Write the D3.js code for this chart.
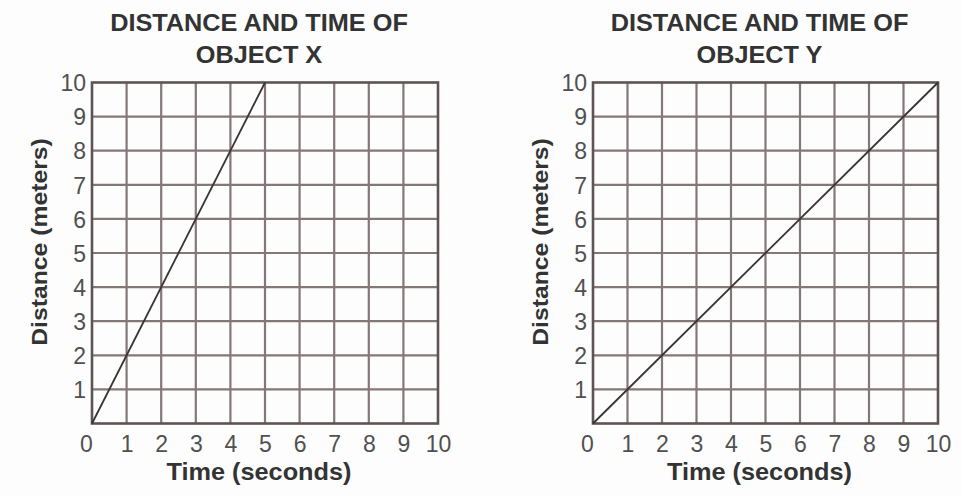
<!DOCTYPE html>
<html>
<head>
<meta charset="utf-8">
<script src="https://cdn.jsdelivr.net/npm/d3@7/dist/d3.min.js"></script>
<style>
  html, body { margin: 0; padding: 0; background: #fdfdfd; }
  svg { display: block; }
  text { font-family: "Liberation Sans", Arial, sans-serif; }
</style>
</head>
<body>
<svg id="chart" width="961" height="496"></svg>
<script>
// ---- data ----
const titlesLine1 = ["DISTANCE AND TIME OF", "DISTANCE AND TIME OF"];
const titlesLine2 = ["OBJECT X", "OBJECT Y"];
const xTickValues = [0, 1, 2, 3, 4, 5, 6, 7, 8, 9, 10];
const yTickValues = [1, 2, 3, 4, 5, 6, 7, 8, 9, 10];
const xDomain = [0, 10];
const yDomain = [0, 10];
const objectXTime = [0, 5];
const objectXDistance = [0, 10];
const objectYTime = [0, 10];
const objectYDistance = [0, 10];
const xAxisTitle = "Time (seconds)";
const yAxisTitle = "Distance (meters)";

const series = [
  { time: objectXTime, dist: objectXDistance },
  { time: objectYTime, dist: objectYDistance }
];

// ---- layout ----
const svg = d3.select("#chart");
const panels = [
  { left: 92, right: 438 },
  { left: 593, right: 938 }
];
const plotTop = 82.5, plotBottom = 423.5;
const SX = 1.1; // horizontal text stretch for bold labels

panels.forEach((p, i) => {
  const x = d3.scaleLinear().domain(xDomain).range([p.left, p.right]);
  const y = d3.scaleLinear().domain(yDomain).range([plotBottom, plotTop]);
  const g = svg.append("g");
  const cx = (p.left + p.right) / 2 - 6;

  // grid
  g.append("g")
    .selectAll("line")
    .data(xTickValues.filter(d => d > 0 && d < 10))
    .join("line")
    .attr("x1", d => x(d)).attr("x2", d => x(d))
    .attr("y1", plotTop).attr("y2", plotBottom)
    .attr("stroke", "#847777").attr("stroke-width", 2.2);
  g.append("g")
    .selectAll("line")
    .data(yTickValues.filter(d => d > 0 && d < 10))
    .join("line")
    .attr("x1", p.left).attr("x2", p.right)
    .attr("y1", d => y(d)).attr("y2", d => y(d))
    .attr("stroke", "#847777").attr("stroke-width", 2.2);

  // border
  g.append("rect")
    .attr("x", p.left).attr("y", plotTop)
    .attr("width", p.right - p.left).attr("height", plotBottom - plotTop)
    .attr("fill", "none").attr("stroke", "#5e5454").attr("stroke-width", 2.6);

  // axes (labels only)
  const xa = g.append("g")
    .attr("transform", `translate(0,${plotBottom})`)
    .call(d3.axisBottom(x).tickValues(xTickValues).tickSize(0).tickPadding(12).tickFormat(d3.format("d")));
  xa.select(".domain").remove();
  xa.selectAll("text")
    .attr("font-size", 23).attr("fill", "#505050")
    .attr("dy", "0.71em")
    .attr("x", d => d === 0 ? -6 : 0);

  const ya = g.append("g")
    .attr("transform", `translate(${p.left},0)`)
    .call(d3.axisLeft(y).tickValues(yTickValues).tickSize(0).tickPadding(6).tickFormat(d3.format("d")));
  ya.select(".domain").remove();
  ya.selectAll("text")
    .attr("font-size", 23).attr("fill", "#505050")
    .attr("dy", "0.36em");

  // data line
  const s = series[i];
  const pts = s.time.map((t, k) => [t, s.dist[k]]);
  g.append("path")
    .datum(pts)
    .attr("d", d3.line().x(d => x(d[0])).y(d => y(d[1])))
    .attr("fill", "none").attr("stroke", "#3a3333").attr("stroke-width", 1.8);

  // titles
  g.append("text")
    .attr("transform", `translate(${cx},31) scale(${SX},1)`)
    .attr("text-anchor", "middle").attr("font-size", 23).attr("font-weight", "bold")
    .attr("fill", "#333").text(titlesLine1[i]);
  g.append("text")
    .attr("transform", `translate(${cx},62.5) scale(${SX},1)`)
    .attr("text-anchor", "middle").attr("font-size", 23).attr("font-weight", "bold")
    .attr("fill", "#333").text(titlesLine2[i]);

  // axis titles
  g.append("text")
    .attr("transform", `translate(${cx},480) scale(${SX},1)`)
    .attr("text-anchor", "middle").attr("font-size", 23).attr("font-weight", "bold")
    .attr("fill", "#333").text(xAxisTitle);
  g.append("text")
    .attr("transform", `translate(${p.left - 45},242) rotate(-90) scale(${SX},1)`)
    .attr("text-anchor", "middle").attr("font-size", 22.5).attr("font-weight", "bold")
    .attr("fill", "#333").text(yAxisTitle);
});
</script>
</body>
</html>
